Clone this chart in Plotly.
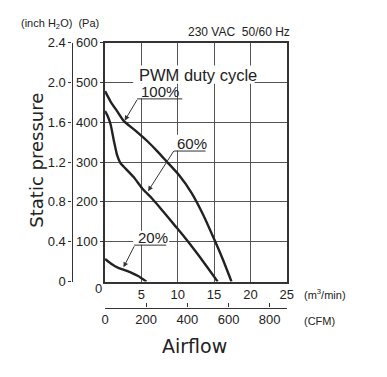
import plotly.graph_objects as go

# ---- data ----
flow_100 = [0, 0.76, 1.65, 2.54, 4.1, 5.9, 7.2, 8.4, 10.2, 11.9, 13.5, 15.1, 16.2, 17.4]
pres_100 = [478, 452, 428, 404, 380, 351, 327, 303, 267, 223, 168, 103, 56, 0]

flow_60 = [0, 0.4, 0.76, 1.2, 1.65, 2.1, 2.54, 3.9, 5.25, 6.5, 8.0, 9.5, 11.0, 12.5, 14.0, 15.5]
pres_60 = [428, 414, 395, 355, 318, 298, 289, 263, 231, 208, 176, 143, 110, 75, 38, 0]

flow_20 = [0, 1.0, 1.9, 2.8, 3.65, 4.55, 5.7]
pres_20 = [57, 43, 34, 28, 22, 14, 0]

m3_ticks = [5, 10, 15, 20, 25]
pa_ticks = [100, 200, 300, 400, 500, 600]
inch_ticks = [0, 0.4, 0.8, 1.2, 1.6, 2.0, 2.4]
inch_labels = ["0", "0.4", "0.8", "1.2", "1.6", "2.0", "2.4"]
cfm_ticks = [0, 200, 400, 600, 800]
CFM_PER_M3MIN = 1 / 0.0283168

W, H = 387, 377
def px(x):
    return x / W
def py(y):
    return 1 - y / H

INK = "#222222"
LINE = "#333333"
GRID = "#555555"
NUM_FONT = dict(family="Liberation Sans, Arial", size=13, color=INK)

fig = go.Figure()
for fx, fp in [(flow_100, pres_100), (flow_60, pres_60), (flow_20, pres_20)]:
    fig.add_trace(go.Scatter(x=fx, y=fp, mode="lines",
                             line=dict(color=INK, width=2.4, shape="spline", smoothing=0.6),
                             showlegend=False, hoverinfo="skip"))
# empty traces to register the secondary axes
fig.add_trace(go.Scatter(x=[], y=[], xaxis="x", yaxis="y2", showlegend=False))
fig.add_trace(go.Scatter(x=[], y=[], xaxis="x2", yaxis="y", showlegend=False))

dom_x = [px(104), px(291)]
dom_y = [py(286), py(37)]

fig.update_layout(
    width=W, height=H, margin=dict(l=0, r=0, t=0, b=0),
    paper_bgcolor="white", plot_bgcolor="white",
    showlegend=False,
    xaxis=dict(domain=dom_x, range=[0, 25], tickvals=m3_ticks, showgrid=True,
               gridcolor=GRID, gridwidth=1, showline=True, mirror=True,
               linecolor=LINE, linewidth=1.5, ticks="", tickfont=NUM_FONT,
               zeroline=False, anchor="y", fixedrange=True),
    yaxis=dict(domain=dom_y, range=[0, 600], tickvals=pa_ticks, showgrid=True,
               gridcolor=GRID, gridwidth=1, showline=True, mirror=True,
               linecolor=LINE, linewidth=1.5, ticks="outside", ticklen=3,
               tickcolor=LINE, tickfont=NUM_FONT, zeroline=False, anchor="x"),
    yaxis2=dict(overlaying="y", anchor="free", position=px(69.5), side="left",
                range=[0, 2.4], tickvals=inch_ticks, ticktext=inch_labels,
                showgrid=False, showline=True, linecolor=LINE, linewidth=1.2,
                ticks="outside", ticklen=3, tickcolor=LINE, tickfont=NUM_FONT,
                zeroline=False),
    xaxis2=dict(overlaying="x", anchor="free", position=py(313), side="bottom",
                range=[0, 25 * CFM_PER_M3MIN], tickvals=cfm_ticks,
                showgrid=False, showline=True, linecolor=LINE, linewidth=1.2,
                ticks="inside", ticklen=4, tickcolor=LINE, tickfont=NUM_FONT,
                zeroline=False),
)

shapes = []
# white masks behind labels (cover gridlines)
for x0, y0, x1, y1 in [(133, 61, 258, 80), (137, 80, 177, 95), (175, 133, 208, 149.5), (133, 233, 170, 247.5)]:
    shapes.append(dict(type="rect", xref="paper", yref="paper", x0=px(x0), x1=px(x1),
                       y0=py(y1), y1=py(y0), fillcolor="white", line=dict(width=0), layer="above"))
# underlines
for x0, x1, y in [(137, 183.5, 95.7), (175, 207.5, 150), (134, 167, 248)]:
    shapes.append(dict(type="line", xref="paper", yref="paper", x0=px(x0), x1=px(x1),
                       y0=py(y), y1=py(y), line=dict(color=LINE, width=1), layer="above"))
fig.update_layout(shapes=shapes)

ann = []
def txt(x, y, s, size, xanchor="left", family="Liberation Sans, Arial", angle=0):
    ann.append(dict(x=px(x), y=py(y), xref="paper", yref="paper", text=s, showarrow=False,
                    xanchor=xanchor, yanchor="middle", textangle=angle,
                    font=dict(family=family, size=size, color=INK)))

txt(15, 18, "(inch H<sub>2</sub>O)\u00a0\u00a0(Pa)", 11)
txt(187, 26, "230\u00a0VAC\u00a0\u00a050/60\u00a0Hz", 12)
txt(137, 70.5, "PWM duty cycle", 16.5)
txt(138.5, 87.5, "100%", 15)
txt(175.5, 142, "60%", 15)
txt(136, 240, "20%", 15)
txt(97, 293, "0", 13, xanchor="center")
txt(307, 298.5, "(m<sup>3</sup>/min)", 11)
txt(307, 326.5, "(CFM)", 11)
txt(196, 353, "Airflow", 19, xanchor="center", family="DejaVu Sans")
txt(34, 160, "Static pressure", 18, xanchor="center", family="DejaVu Sans", angle=-90)

# leader arrows: tip on curve (data coords), tail offset in pixels
for qx, qp, ax, ay in [(2.7, 404, 13.3, -22.3), (5.92, 227, 26.7, -41.7), (2.54, 36, 11.5, -22.5)]:
    ann.append(dict(x=qx, y=qp, xref="x", yref="y", ax=ax, ay=ay, text="", showarrow=True,
                    arrowhead=2, arrowsize=1, arrowwidth=1, arrowcolor=LINE, standoff=0))
fig.update_layout(annotations=ann)

fig.write_html("out.html")
